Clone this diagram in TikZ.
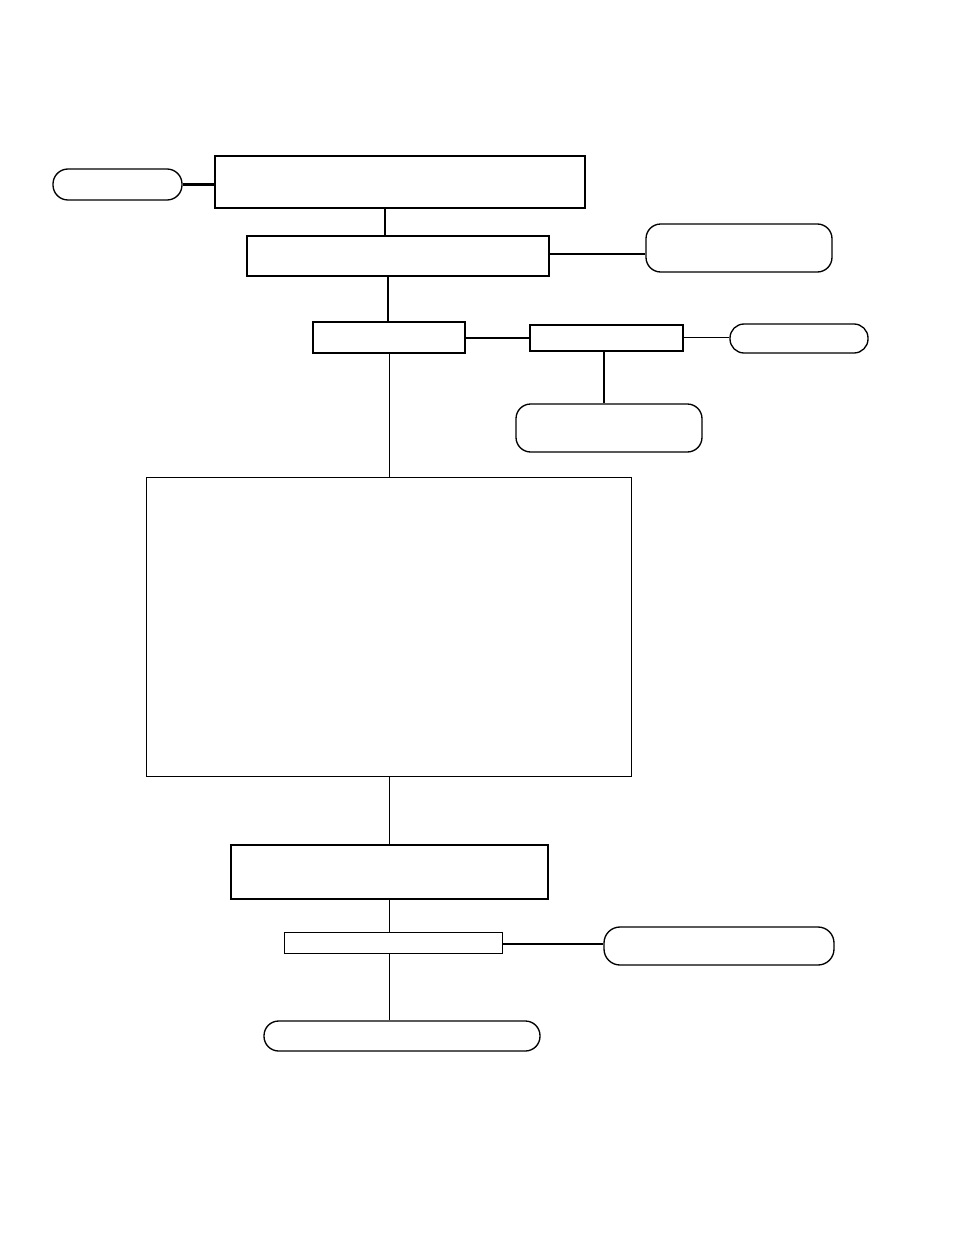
\documentclass[tikz,border=0pt]{standalone}
\begin{document}
\begin{tikzpicture}[x=0.75pt,y=-0.75pt,
  box/.style={draw,rectangle,inner sep=0pt,fill=white},
  pill/.style={draw,rectangle,inner sep=0pt,line width=1pt,fill=white},
  thickl/.style={line width=1.6pt},
  medl/.style={line width=1.1pt},
  thinl/.style={line width=0.75pt}]
\useasboundingbox (0,0) rectangle (954,1235);
% nodes
\node[box,thickl,minimum width=370*0.75pt,minimum height=52*0.75pt] (r1) at (400,182) {};
\node[pill,rounded corners=7.5pt*1.5,minimum width=129*0.75pt,minimum height=31*0.75pt] (p1) at (117.5,184.5) {};
\node[box,medl,minimum width=302*0.75pt,minimum height=40*0.75pt] (r2) at (398,256) {};
\node[pill,rounded corners=11pt,minimum width=186*0.75pt,minimum height=48*0.75pt] (p2) at (739,248) {};
\node[box,thickl,minimum width=152*0.75pt,minimum height=31*0.75pt] (r3) at (389,337.5) {};
\node[box,medl,minimum width=153*0.75pt,minimum height=26*0.75pt] (r4) at (606.5,338) {};
\node[pill,rounded corners=10.5pt,minimum width=138*0.75pt,minimum height=29*0.75pt] (p3) at (799,338.5) {};
\node[pill,rounded corners=11pt,minimum width=186*0.75pt,minimum height=48*0.75pt] (p4) at (609,428) {};
\node[box,thinl,minimum width=485*0.75pt,minimum height=299*0.75pt] (big) at (388.5,626.5) {};
\node[box,thickl,minimum width=317*0.75pt,minimum height=54*0.75pt] (r5) at (389.5,872) {};
\node[box,thinl,minimum width=218*0.75pt,minimum height=21*0.75pt] (r6) at (393,942.5) {};
\node[pill,rounded corners=12pt,minimum width=230*0.75pt,minimum height=38*0.75pt] (p5) at (719,946) {};
\node[pill,rounded corners=11pt,minimum width=276*0.75pt,minimum height=30*0.75pt] (p6) at (402,1036) {};
% connectors
\draw[thickl] (p1.east) -- (p1.east -| r1.west);
\draw[thickl] (r1.south -| 385,0) -- (r2.north -| 385,0);
\draw[thickl] (r2.east |- 0,254) -- (p2.west |- 0,254);
\draw[thickl] (r2.south -| 388,0) -- (r3.north -| 388,0);
\draw[thickl] (r3.east |- 0,338) -- (r4.west |- 0,338);
\draw[thinl] (r4.east |- 0,337) -- (p3.west |- 0,337);
\draw[thickl] (r4.south -| 604,0) -- (p4.north -| 604,0);
\draw[thinl] (r3.south -| 389,0) -- (big.north -| 389,0);
\draw[thinl] (big.south -| 389,0) -- (r5.north -| 389,0);
\draw[thinl] (r5.south -| 389,0) -- (r6.north -| 389,0);
\draw[thickl] (r6.east |- 0,944) -- (p5.west |- 0,944);
\draw[thinl] (r6.south -| 389,0) -- (p6.north -| 389,0);
\end{tikzpicture}
\end{document}
